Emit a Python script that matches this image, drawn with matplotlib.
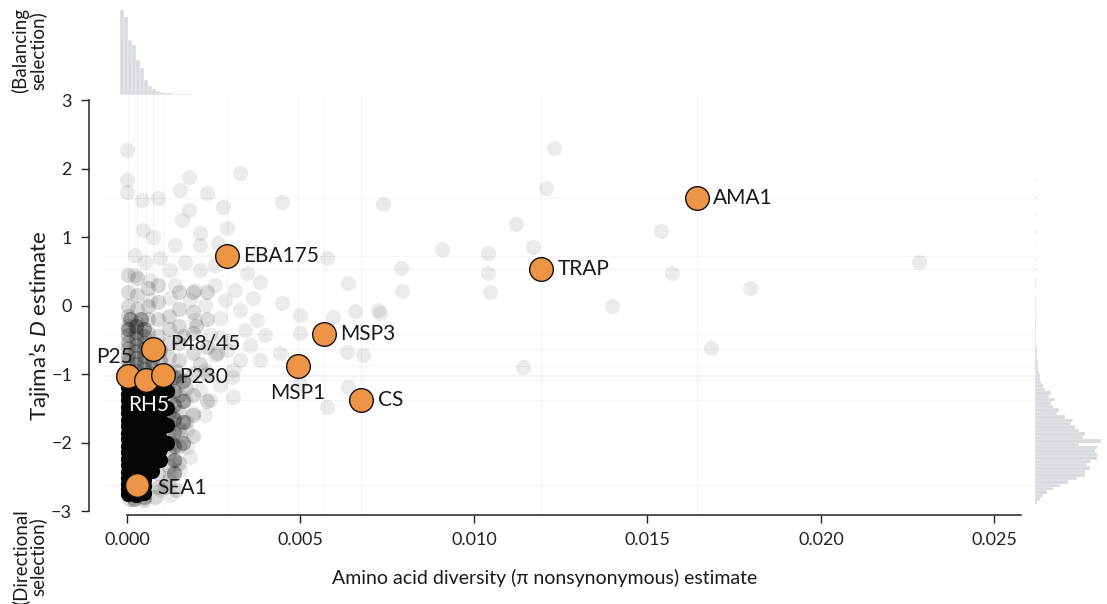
import numpy as np
import matplotlib
matplotlib.use("Agg")
import matplotlib.pyplot as plt

plt.rcParams['font.family'] = ['Lato', 'DejaVu Sans']
plt.rcParams['mathtext.fontset'] = 'custom'
plt.rcParams['mathtext.it'] = 'Lato:italic'
plt.rcParams['mathtext.rm'] = 'Lato'

# ---- labelled antigens
genes = ['AMA1', 'TRAP', 'EBA175', 'MSP3', 'MSP1', 'CS',
         'P48/45', 'P25', 'RH5', 'P230', 'SEA1']
gene_pi = [0.01643, 0.01193, 0.00288, 0.00568, 0.00493, 0.00674,
           0.00075, 0.00003, 0.00055, 0.00104, 0.00029]
gene_d = [1.57, 0.53, 0.72, -0.42, -0.88, -1.38,
          -0.64, -1.03, -1.09, -1.01, -2.62]

# ---- background genes, sparse / light
cloud_pi = [0.01231, 0.01207, 0.01121, 0.01170, 0.01539, 0.01571, 0.01795,
            0.01398, 0.01683, 0.01141, 0.02282, 0.0104, 0.0104, 0.01046,
            0.00908, 0.0079, 0.00793, 0.00738, 0.00447, 0.00326,
            0.0, 0.0, 0.0, 0.0023, 0.0018, 0.00153, 0.0009, 0.00043,
            0.0018, 0.00277, 0.00158, 0.0021, 0.00288, 0.00046, 0.00075,
            0.00138, 0.0021, 0.00262, 0.00576, 0.00637, 0.00346, 0.00383,
            0.00363, 0.00447, 0.00499, 0.00594, 0.00499, 0.00723, 0.00657,
            0.00729, 0.00375, 0.00398, 0.00383, 0.00441, 0.00288, 0.00305,
            0.00303, 0.00634, 0.0068, 0.00637, 0.00576, 0.00499, 0.00239,
            0.0019, 0.00305, 0.00173, 0.00173, 0.00182, 0.00133, 0.00268,
            0.00023, 0.00052, 0.00095, 0.00124, 0.00167, 0.0021, 0.00254,
            0.00311, 0.00254, 0.00196, 0.00138, 0.00066, 0.00023, 0.00282,
            0.00225, 0.00182, 0.00124, 0.00066, 0.00326, 0.00268, 0.0034,
            0.00297, 0.00239, 0.00196, 0.00354, 0.00254, 0.00326, 0.00225,
            0.00268, 0.0021, 0.00167, 0.00225, 0.00153, 0.00138, 0.00124,
            0.00153, 0.00095, 0.00124]
cloud_d = [2.30, 1.72, 1.19, 0.85, 1.09, 0.47, 0.26,
           -0.01, -0.62, -0.90, 0.64, 0.77, 0.47, 0.20,
           0.82, 0.55, 0.21, 1.48, 1.51, 1.93,
           2.27, 1.83, 1.66, 1.64, 1.88, 1.69, 1.57, 1.54,
           1.39, 1.44, 1.25, 1.06, 1.13, 1.10, 1.00,
           0.88, 0.88, 0.91, 0.69, 0.33, 0.47, 0.34,
           0.11, 0.04, -0.14, -0.17, -0.40, -0.07, -0.08,
           -0.11, -0.21, -0.43, -0.80, -0.69, -0.65, -0.94,
           -1.04, -0.68, -0.72, -1.19, -1.48, -1.13, -1.38,
           -1.57, -1.34, -1.82, -2.06, -2.21, -1.72, -0.46,
           0.74, 0.63, 0.69, 0.52, 0.63, 0.52, 0.59,
           0.23, 0.30, 0.23, 0.30, 0.37, 0.45, 0.08,
           0.01, 0.08, 0.11, 0.08, -0.07, -0.18, -0.36,
           -0.50, -0.43, -0.21, -0.58, -0.72, -0.80, -0.94,
           -1.16, -1.23, -1.38, -1.60, -1.89, -2.26, -2.47,
           -2.40, -2.69, -2.77]

# ---- background genes, medium density around the core
mid_pi = ([0.0012] * 13 + [0.0015] * 11 + [0.0019] * 8 + [0.0023] * 5
          + [0.00002] * 5 + [0.0003] * 4 + [0.0006] * 4 + [0.0009] * 4
          + [0.0001, 0.0005, 0.0008]
          + [0.0014, 0.0017, 0.0021, 0.0013, 0.0016, 0.0020, 0.0026,
             0.0013, 0.0017, 0.0011, 0.0014, 0.0009, 0.0009])
mid_d = [-2.55, -2.35, -2.15, -1.95, -1.75, -1.55, -1.35, -1.15, -0.95,
         -0.75, -0.55, -0.35, -0.15,
         -2.3, -2.05, -1.8, -1.55, -1.3, -1.05, -0.8, -0.55, -0.3, -0.05, 0.2,
         -1.9, -1.6, -1.3, -1.0, -0.7, -0.4, -0.1, 0.2,
         -1.4, -1.0, -0.6, -0.2, 0.2,
         -0.3, -0.15, 0.0, 0.2, 0.45,
         -0.25, -0.05, 0.15, 0.4,
         -0.4, -0.2, 0.0, 0.25,
         -0.45, -0.2, 0.05, 0.3,
         -2.82, -2.84, -2.8,
         -0.95, -1.2, -0.85, -1.6, -0.45, -0.3, -0.7,
         -2.0, -1.7, -2.65, -2.7, -2.45, -2.65]

# ---- background genes, dark fringe of the core
edge_pi = ([0.00135] * 8 + [0.0016] * 4
           + [0.00002, 0.00025, 0.0005, 0.0004, 0.0001, 0.0002, 0.0005])
edge_d = [-2.45, -2.25, -2.05, -1.85, -1.65, -1.45, -1.25, -1.05,
          -2.0, -1.7, -1.4, -1.1,
          -0.35, -0.3, -0.35, -0.2, -0.2, -2.82, -2.8]

# ---- background genes, upper part of the core (dark grey)
upper_pi = ([0.00002] * 8 + [0.00025] * 9 + [0.00048] * 8 + [0.00072] * 6
            + [0.00095] * 4)
upper_d = [-1.10, -1.00, -0.91, -0.81, -0.72, -0.62, -0.53, -0.43,
           -1.15, -1.05, -0.96, -0.86, -0.77, -0.67, -0.58, -0.48, -0.38,
           -1.12, -1.02, -0.93, -0.83, -0.74, -0.64, -0.55, -0.45,
           -1.10, -1.00, -0.91, -0.81, -0.72, -0.62,
           -1.10, -0.95, -0.80, -0.65]

# ---- background genes, dense black core near pi = 0
core_pi = ([0.00002] * 18 + [0.00025] * 17 + [0.00048] * 17
           + [0.00072] * 13 + [0.00095] * 8 + [0.00115] * 4)
core_d = [-2.75, -2.68, -2.60, -2.52, -2.43, -2.33, -2.24, -2.14, -2.05,
          -1.95, -1.86, -1.76, -1.67, -1.57, -1.48, -1.38, -1.29, -1.19,
          -2.76, -2.67, -2.57, -2.48, -2.38, -2.29, -2.19, -2.10, -2.00,
          -1.91, -1.81, -1.72, -1.62, -1.53, -1.43, -1.34, -1.24,
          -2.74, -2.64, -2.54, -2.45, -2.35, -2.26, -2.16, -2.07, -1.97,
          -1.88, -1.78, -1.69, -1.59, -1.50, -1.40, -1.31, -1.21,
          -2.42, -2.33, -2.24, -2.14, -2.05, -1.95,
          -1.86, -1.76, -1.67, -1.57, -1.48, -1.38, -1.29,
          -2.25, -2.10, -1.95, -1.80, -1.65, -1.50, -1.35, -1.20,
          -2.00, -1.75, -1.50, -1.25]

# ---- marginal histograms
pi_bin_start = -0.0002
pi_bin_width = 0.000115
pi_counts = [85, 78, 55, 50, 35, 27, 15, 9, 6, 4, 3, 2.5, 2, 1.5, 1.2,
             1, 0.8, 0.6, 0.5, 0.4]

d_bin_start = -2.9
d_bin_width = 0.05
d_counts = [2, 5, 8, 12, 18, 25, 33, 42, 50, 50, 55, 52, 56, 62, 62, 60,
            62, 44, 66, 48, 50, 44, 40, 36, 38, 30, 22, 24, 18, 16, 20, 14,
            16, 10, 8, 6, 5, 5, 4, 3, 3, 2.5, 2, 2, 1.5, 1.5, 1, 1, 1, 0.8,
            0.8, 0.6, 0.5, 0.5, 0, 0.5, 0.5, 0, 0.5, 0, 0.5, 0, 0, 0.5, 0,
            0.5, 0, 0, 0.5, 0, 0, 0.5, 0, 0, 0, 0.5, 0, 0, 0, 0.5, 0, 0,
            0, 0, 0.5, 0, 0, 0, 0, 0.5, 0, 0, 0, 0, 0.5]

orange = '#EE9446'
histc = '#d6d9dd'

fig = plt.figure(figsize=(11.07, 6.04), dpi=100)
ax = fig.add_axes([104 / 1107, 89 / 604, 931 / 1107, 420 / 604])
axt = fig.add_axes([104 / 1107, 509 / 604, 931 / 1107, 87 / 604], sharex=ax)
axr = fig.add_axes([1035 / 1107, 89 / 604, 70 / 1107, 420 / 604], sharey=ax)

# faint crosshairs through labelled genes
for xv, yv in zip(gene_pi, gene_d):
    ax.axvline(xv, color='#000000', alpha=0.045, lw=0.8, zorder=0)
    ax.axhline(yv, color='#000000', alpha=0.045, lw=0.8, zorder=0)

ax.scatter(cloud_pi, cloud_d, s=120, color='#000000', alpha=0.08,
           linewidths=0, zorder=1)
ax.scatter(mid_pi, mid_d, s=120, color='#000000', alpha=0.14,
           linewidths=0, zorder=1)
ax.scatter(edge_pi, edge_d, s=120, color='#000000', alpha=0.3,
           linewidths=0, zorder=1)
ax.scatter(upper_pi, upper_d, s=120, color='#000000', alpha=0.22,
           linewidths=0, zorder=1)
ax.scatter(core_pi, core_d, s=120, color='#050505', alpha=1.0,
           linewidths=0, zorder=1)
ax.scatter(gene_pi, gene_d, s=290, color=orange, edgecolors='#111111',
           linewidths=1.0, zorder=3)

# label offsets in pixels
offsets = {'AMA1': (16, 0, 'left'), 'TRAP': (17, 0, 'left'),
           'EBA175': (16, 0, 'left'), 'MSP3': (16, 0, 'left'),
           'MSP1': (0, -27, 'center'), 'CS': (17, 0, 'left'),
           'P48/45': (17, 6, 'left'), 'P25': (-14, 19, 'center'),
           'RH5': (3, -25, 'center'), 'P230': (16, -2, 'left'),
           'SEA1': (20, -3, 'left')}
for g, xv, yv in zip(genes, gene_pi, gene_d):
    dx, dy, ha = offsets[g]
    col = 'white' if g == 'RH5' else '#1a1a1a'
    ax.annotate(g, (xv, yv), xytext=(dx, dy), textcoords='offset pixels',
                ha=ha, va='center', fontsize=15, color=col, zorder=4)

ax.set_xlim(-0.000663, 0.02617)
ax.set_ylim(-3.058, 3.073)
for s in ['top', 'right']:
    ax.spines[s].set_visible(False)
ax.spines['left'].set_bounds(-3, 3)
ax.spines['left'].set_position(('outward', 11))
ax.spines['bottom'].set_bounds(0, 0.02576)
ax.set_xticks([0, 0.005, 0.010, 0.015, 0.020, 0.025])
ax.set_xticklabels(['0.000', '0.005', '0.010', '0.015', '0.020', '0.025'])
ax.set_yticks([-3, -2, -1, 0, 1, 2, 3])
ax.set_yticklabels(['\u22123', '\u22122', '\u22121', '0', '1', '2', '3'])
ax.tick_params(labelsize=13, length=6, width=1, color='#222222',
               labelcolor='#222222', pad=6)
for s in ['left', 'bottom']:
    ax.spines[s].set_linewidth(1.1)
    ax.spines[s].set_color('#222222')

# top histogram
edges = pi_bin_start + pi_bin_width * np.arange(len(pi_counts))
axt.bar(edges, pi_counts, width=pi_bin_width, align='edge', color=histc,
        edgecolor='white', linewidth=0.3)
axt.set_ylim(0, 87)
axt.axis('off')

# right histogram
dedges = d_bin_start + d_bin_width * np.arange(len(d_counts))
axr.barh(dedges, d_counts, height=d_bin_width, align='edge', color=histc,
         edgecolor='white', linewidth=0.2)
axr.set_xlim(0, 70)
axr.axis('off')

fig.text(0.492, 0.043, 'Amino acid diversity (\u03c0 nonsynonymous) estimate',
         ha='center', va='center', fontsize=14, color='#1a1a1a')
fig.text(0.036, 0.46, 'Tajima\u2019s $\\it{D}$ estimate', rotation=90,
         ha='center', va='center', fontsize=16, color='#1a1a1a')
fig.text(0.026, 0.917, '(Balancing\nselection)', rotation=90,
         ha='center', va='center', fontsize=13.5, color='#1a1a1a',
         linespacing=0.95)
fig.text(0.026, 0.078, '(Directional\nselection)', rotation=90,
         ha='center', va='center', fontsize=13.5, color='#1a1a1a',
         linespacing=0.95)

fig.savefig('out.png', dpi=100)
